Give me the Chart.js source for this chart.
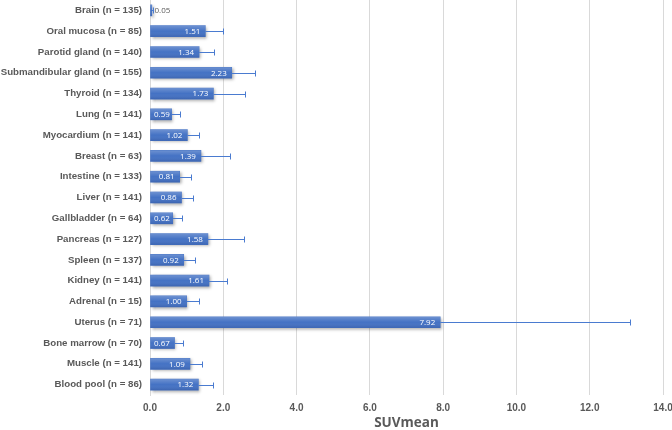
<!DOCTYPE html>
<html>
<head>
<meta charset="utf-8">
<script src="https://cdn.jsdelivr.net/npm/chart.js@4.4.0/dist/chart.umd.min.js"></script>
<style>
  html, body { margin: 0; padding: 0; background: #fff; }
  #wrap { width: 672px; height: 430px; }
</style>
</head>
<body>
<div id="wrap"><canvas id="chart"></canvas></div>
<script>
// DATA

const organs = [
  'Brain (n = 135)',
  'Oral mucosa (n = 85)',
  'Parotid gland (n = 140)',
  'Submandibular gland (n = 155)',
  'Thyroid (n = 134)',
  'Lung (n = 141)',
  'Myocardium (n = 141)',
  'Breast (n = 63)',
  'Intestine (n = 133)',
  'Liver (n = 141)',
  'Gallbladder (n = 64)',
  'Pancreas (n = 127)',
  'Spleen (n = 137)',
  'Kidney (n = 141)',
  'Adrenal (n = 15)',
  'Uterus (n = 71)',
  'Bone marrow (n = 70)',
  'Muscle (n = 141)',
  'Blood pool (n = 86)'
];

const suvMean = [0.05, 1.51, 1.34, 2.23, 1.73, 0.59, 1.02, 1.39, 0.81, 0.86,
  0.62, 1.58, 0.92, 1.61, 1.00, 7.92, 0.67, 1.09, 1.32];

// standard deviation (only the upper whisker is drawn)
const suvSD = [0.04, 0.49, 0.40, 0.64, 0.86, 0.23, 0.33, 0.79, 0.30, 0.31,
  0.26, 0.99, 0.32, 0.49, 0.35, 5.18, 0.23, 0.34, 0.40];

const xTicks = [0, 2, 4, 6, 8, 10, 12, 14];

const BAR_BLUE = '#4472c4';
const TEXT_GREY = '#595959';

// PLUGINS

// soft shadow behind the bars, then a light top-to-bottom shading on each bar
const barShadow = {
  id: 'barShadow',
  beforeDatasetDraw(chart) {
    const ctx = chart.ctx;
    ctx.save();
    ctx.shadowColor = 'rgba(0,0,0,0.35)';
    ctx.shadowBlur = 3;
    ctx.shadowOffsetX = 1.5;
    ctx.shadowOffsetY = 1.5;
  },
  afterDatasetDraw(chart) {
    const ctx = chart.ctx;
    ctx.restore();
    ctx.save();
    chart.getDatasetMeta(0).data.forEach(bar => {
      const top = bar.y - bar.height / 2;
      const g = ctx.createLinearGradient(0, top, 0, top + bar.height);
      g.addColorStop(0, 'rgba(255,255,255,0.22)');
      g.addColorStop(0.5, 'rgba(255,255,255,0.0)');
      g.addColorStop(1, 'rgba(0,0,40,0.12)');
      ctx.fillStyle = g;
      ctx.fillRect(bar.base, top, bar.x - bar.base, bar.height);
    });
    ctx.restore();
  }
};

// error bars + value labels
const errorsAndLabels = {
  id: 'errorsAndLabels',
  afterDatasetsDraw(chart) {
    const ctx = chart.ctx;
    const xScale = chart.scales.x;
    const meta = chart.getDatasetMeta(0);
    const x0 = xScale.getPixelForValue(0);

    ctx.save();
    meta.data.forEach((bar, i) => {
      const y = Math.round(bar.y) + 0.5;
      const xEnd = Math.round(xScale.getPixelForValue(suvMean[i] + suvSD[i])) + 0.5;

      ctx.strokeStyle = '#4a7bd0';
      ctx.lineWidth = 1;
      ctx.beginPath();
      ctx.moveTo(bar.x, y);
      ctx.lineTo(xEnd, y);
      ctx.moveTo(xEnd, y - 3);
      ctx.lineTo(xEnd, y + 3);
      ctx.stroke();

      // value label
      const txt = suvMean[i].toFixed(2);
      ctx.font = '8px "Open Sans"';
      ctx.textBaseline = 'middle';
      const w = ctx.measureText(txt).width;
      const barW = bar.x - x0;
      if (barW > w + 4) {
        ctx.fillStyle = '#ffffff';
        ctx.textAlign = 'right';
        ctx.fillText(txt, Math.max(bar.x - 5, x0 + 4 + w), bar.y + 0.5);
      } else {
        ctx.fillStyle = TEXT_GREY;
        ctx.textAlign = 'left';
        ctx.fillText(txt, xEnd + 1, bar.y + 0.5);
      }
    });
    ctx.restore();
  }
};

// CHART

const ctx = document.getElementById('chart').getContext('2d');

new Chart(ctx, {
  type: 'bar',
  data: {
    labels: organs,
    datasets: [{
      label: 'SUVmean',
      data: suvMean,
      backgroundColor: BAR_BLUE,
      borderWidth: 0,
      barThickness: 11
    }]
  },
  options: {
    indexAxis: 'y',
    responsive: true,
    maintainAspectRatio: false,
    animation: false,
    layout: { padding: { top: 0, right: 9, bottom: 0, left: 0 } },
    plugins: {
      legend: { display: false },
      tooltip: { enabled: false }
    },
    scales: {
      x: {
        min: 0,
        max: 14,
        afterBuildTicks(scale) {
          scale.ticks = xTicks.map(v => ({ value: v }));
        },
        afterFit(scale) {
          scale.height = 35;
          scale.paddingLeft = 0;
          scale.paddingRight = 0;
        },
        grid: { color: '#d9d9d9', drawTicks: false },
        border: { display: false },
        ticks: {
          padding: 7,
          color: TEXT_GREY,
          font: { family: '"Liberation Sans", Arial', size: 10, weight: 'bold' },
          callback: v => Number(v).toFixed(1)
        },
        title: {
          display: true,
          text: 'SUVmean',
          color: TEXT_GREY,
          padding: 0,
          font: { family: '"Open Sans"', size: 13.5, weight: 'bold', lineHeight: 1 }
        }
      },
      y: {
        afterFit(scale) {
          scale.width = 150;
          scale.paddingTop = 0;
          scale.paddingBottom = 0;
        },
        grid: { display: false, drawTicks: false },
        border: { display: true, color: '#d9d9d9' },
        ticks: {
          padding: 8,
          color: TEXT_GREY,
          autoSkip: false,
          font: { family: '"Liberation Sans", Arial', size: 9.7, weight: 'bold' }
        }
      }
    }
  },
  plugins: [barShadow, errorsAndLabels]
});
</script>
</body>
</html>
